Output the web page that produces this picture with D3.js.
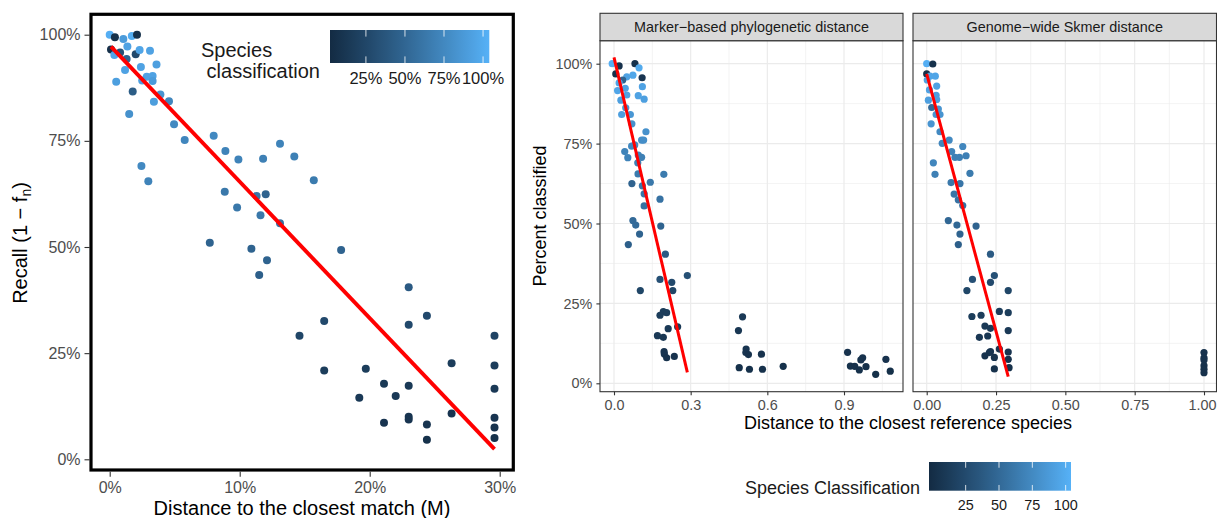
<!DOCTYPE html>
<html>
<head>
<meta charset="utf-8">
<script src="https://cdn.jsdelivr.net/npm/d3@7"></script>
<style>
  body { margin: 0; background: white; }
  svg { display: block; font-family: "Liberation Sans", Arial, sans-serif; }
</style>
</head>
<body>
<div id="container"></div>
<script>
// left panel: [distance %, recall %, species classification]
const leftPoints = [
  [0, 100, 0.98], [0.4, 99.4, 0.05], [1.05, 99, 0.85], [1.7, 99.7, 0.97], [2.1, 100, 0.05],
  [0.1, 96.5, 0.05], [0.36, 95.2, 0.92], [0.8, 95.8, 0.3], [1.36, 97.2, 0.9], [1.3, 94.3, 0.45],
  [1.18, 91.7, 0.9], [2.0, 95.4, 0.25], [2.3, 96.4, 0.92], [3.1, 96.2, 0.9], [2.4, 92.4, 0.9],
  [3.6, 93, 0.88], [2.85, 90.1, 0.9], [3.3, 90.3, 0.9], [2.5, 89.2, 0.88], [3.3, 89.1, 0.85],
  [0.5, 88.9, 0.88], [1.77, 86.6, 0.4], [3.9, 85.9, 0.8], [4.56, 84.3, 0.7], [3.4, 84.2, 0.87],
  [1.5, 81.3, 0.78], [4.95, 78.9, 0.72], [5.77, 75.2, 0.7], [8.0, 76.2, 0.72], [8.9, 72.6, 0.68],
  [9.9, 70.6, 0.68], [11.8, 70.8, 0.66], [13.1, 74.3, 0.68], [14.2, 71.3, 0.66], [15.7, 65.7, 0.62],
  [2.44, 69.1, 0.72], [2.97, 65.5, 0.68], [8.85, 63, 0.6], [9.8, 59.3, 0.6], [11.3, 62, 0.58],
  [12.0, 62.4, 0.45], [11.6, 57.5, 0.6], [13.1, 55.6, 0.55], [7.7, 51, 0.45], [10.9, 49.6, 0.45],
  [12.1, 46.9, 0.45], [11.5, 43.4, 0.42], [17.8, 49.3, 0.45], [23, 40.5, 0.38], [23, 31.7, 0.25],
  [24.4, 33.8, 0.25], [16.5, 32.6, 0.25], [14.6, 29.1, 0.22], [16.5, 20.9, 0.15], [19.7, 21.3, 0.15],
  [19.2, 14.5, 0.12], [21.1, 17.8, 0.12], [22, 14.9, 0.12], [21.1, 8.6, 0.08], [23, 17.3, 0.12],
  [23, 10, 0.08], [23, 9.4, 0.08], [24.4, 8.2, 0.08], [24.4, 4.6, 0.05], [26.3, 22.6, 0.15],
  [26.3, 10.8, 0.08], [29.6, 29.1, 0.2], [29.6, 22.1, 0.15], [29.6, 16.6, 0.12], [29.6, 9.8, 0.08],
  [29.6, 7.5, 0.06], [29.6, 5, 0.05]
];
const leftFit = [[0.1, 97.2], [29.6, 2.4]];

// right panels: [distance, percent classified, species classification]
const markerPoints = [
  [-0.007, 100, 0.98], [0.02, 99.3, 0.05], [0.007, 96.8, 0.05], [0.082, 100, 0.05], [0.098, 98.7, 0.95],
  [0.074, 96.4, 0.93], [0.11, 95.6, 0.08], [0.05, 95.9, 0.9], [0.034, 94.9, 0.45], [0.02, 94, 0.92],
  [0.044, 92.3, 0.9], [0.111, 92.8, 0.9], [0.014, 91.6, 0.92], [0.05, 90.2, 0.9], [0.095, 90, 0.9],
  [0.118, 88.9, 0.88], [0.027, 88.6, 0.88], [0.046, 86.2, 0.8], [0.064, 84.1, 0.82], [0.03, 84.1, 0.88],
  [0.07, 81.2, 0.78], [0.125, 78.7, 0.78], [0.108, 76.1, 0.76], [0.116, 76.1, 0.76], [0.069, 74.2, 0.72],
  [0.081, 74.6, 0.72], [0.042, 72.5, 0.68], [0.054, 70.6, 0.68], [0.095, 71.4, 0.68], [0.108, 70.7, 0.66],
  [0.093, 69, 0.66], [0.094, 65.5, 0.62], [0.195, 65.4, 0.62], [0.07, 62.5, 0.45], [0.111, 61.8, 0.6],
  [0.142, 62.9, 0.6], [0.118, 59.3, 0.58], [0.118, 55.5, 0.55], [0.18, 57.6, 0.56], [0.074, 50.9, 0.5],
  [0.085, 49.5, 0.5], [0.183, 49.2, 0.45], [0.1, 46.7, 0.45], [0.056, 43.4, 0.42], [0.201, 40.4, 0.38],
  [0.18, 32.5, 0.3], [0.226, 31.6, 0.25], [0.287, 33.7, 0.3], [0.23, 29, 0.22], [0.103, 29, 0.22],
  [0.193, 22.4, 0.15], [0.206, 22.1, 0.15], [0.18, 21.3, 0.15], [0.249, 17.7, 0.12], [0.212, 17.1, 0.12],
  [0.17, 14.9, 0.12], [0.193, 14.4, 0.1], [0.196, 9.9, 0.08], [0.197, 9.2, 0.08], [0.206, 8, 0.06],
  [0.236, 8.4, 0.06], [0.503, 20.8, 0.12], [0.487, 16.5, 0.1], [0.517, 10.7, 0.08], [0.516, 9.6, 0.08],
  [0.526, 9, 0.06], [0.577, 9.1, 0.06], [0.49, 4.9, 0.05], [0.53, 4.4, 0.05], [0.581, 4.4, 0.05],
  [0.662, 5.3, 0.05], [0.914, 9.7, 0.06], [0.973, 8, 0.06], [0.966, 7.3, 0.06], [1.064, 7.5, 0.06],
  [0.925, 5.4, 0.05], [0.942, 5.3, 0.05], [0.96, 4.2, 0.05], [0.986, 5.2, 0.05], [1.024, 2.8, 0.04],
  [1.081, 3.8, 0.04]
];
const markerFit = [[0, 102], [0.287, 3.4]];

const skmerPoints = [
  [0, 100, 0.98], [0.022, 99.9, 0.05], [0, 96.8, 0.05], [0.012, 96.1, 0.92], [0.031, 96.1, 0.92],
  [0.002, 94.9, 0.9], [0.036, 93, 0.9], [0.01, 91.8, 0.9], [0.034, 90.1, 0.88], [0.036, 88.8, 0.88],
  [0.006, 88.6, 0.88], [0.018, 86.3, 0.5], [0.042, 85.8, 0.8], [0.034, 84.1, 0.8], [0.048, 84.1, 0.8],
  [0.016, 81.2, 0.8], [0.048, 78.7, 0.72], [0.081, 76.1, 0.72], [0.056, 75.1, 0.7], [0.13, 74.1, 0.7],
  [0.09, 72.5, 0.68], [0.102, 70.7, 0.66], [0.118, 70.7, 0.66], [0.142, 71.2, 0.66], [0.024, 69, 0.7],
  [0.03, 65.4, 0.66], [0.156, 65.7, 0.62], [0.088, 62.8, 0.6], [0.12, 62.5, 0.58], [0.099, 59.2, 0.58],
  [0.114, 57.4, 0.56], [0.13, 55.6, 0.55], [0.078, 50.9, 0.48], [0.109, 49.5, 0.48], [0.178, 49.2, 0.45],
  [0.12, 46.7, 0.45], [0.114, 43.4, 0.42], [0.23, 40.4, 0.38], [0.165, 32.5, 0.3], [0.244, 33.7, 0.3],
  [0.23, 31.6, 0.25], [0.145, 29, 0.22], [0.294, 29, 0.22], [0.163, 20.9, 0.15], [0.196, 21.3, 0.15],
  [0.262, 22.5, 0.15], [0.294, 22.1, 0.15], [0.21, 17.9, 0.12], [0.23, 17.2, 0.12], [0.294, 16.5, 0.12],
  [0.19, 14.4, 0.1], [0.22, 14.8, 0.1], [0.262, 10.7, 0.08], [0.23, 9.9, 0.08], [0.226, 9.6, 0.08],
  [0.294, 9.8, 0.08], [0.21, 8.6, 0.06], [0.244, 8.1, 0.06], [0.294, 7.5, 0.06], [0.297, 4.9, 0.05],
  [0.244, 4.5, 0.05], [1, 9.6, 0.06], [1, 8, 0.06], [1, 7.3, 0.06], [1, 5.5, 0.05], [1, 4.4, 0.05],
  [1, 3.3, 0.05]
];
const skmerFit = [[0, 96.8], [0.294, 2.1]];

const leftXTicks = [0, 10, 20, 30];
const leftYTicks = [0, 25, 50, 75, 100];
const markerXTicks = [0, 0.3, 0.6, 0.9];
const markerMinor = [0.15, 0.45, 0.75, 1.05];
const skmerXTicks = [0, 0.25, 0.5, 0.75, 1];
const skmerMinor = [0.125, 0.375, 0.625, 0.875];
const pctTicks = [0, 25, 50, 75, 100];
const pctMinor = [12.5, 37.5, 62.5, 87.5];
const legendTicks = [0.25, 0.5, 0.75, 1];
const panelTitles = ["Marker\u2212based phylogenetic distance", "Genome\u2212wide Skmer distance"];

const w = 1217;
const h = 518;

const svg = d3
  .select("#container")
  .append("svg")
  .attr("width", w)
  .attr("height", h)
  .attr("viewBox", `0 0 ${w} ${h}`);

const color = d3
  .scaleLinear()
  .domain([0, 1])
  .range(["#132B43", "#56B1F7"])
  .interpolate(d3.interpolateLab);

function styleAxis(g, size) {
  g.select(".domain").remove();
  g.selectAll(".tick line").attr("stroke", "#333333").attr("stroke-width", 1.1);
  g.selectAll(".tick text")
    .attr("fill", "#4D4D4D")
    .attr("font-size", size)
    .attr("font-family", "Liberation Sans, Arial, sans-serif");
}

// gradient for the colour bars
const defs = svg.append("defs");
const grad = defs
  .append("linearGradient")
  .attr("id", "bar-grad")
  .attr("x1", "0%")
  .attr("x2", "100%");
d3.range(0, 1.0001, 0.05).forEach((t) => {
  grad.append("stop").attr("offset", t * 100 + "%").attr("stop-color", color(t));
});

function colorbar(x0, x1, y0, y1, lo, hi, fmt, fontSize, labelY) {
  const s = d3.scaleLinear().domain([lo, hi]).range([x0, x1]);
  svg
    .append("rect")
    .attr("x", x0)
    .attr("y", y0)
    .attr("width", x1 - x0)
    .attr("height", y1 - y0)
    .attr("fill", "url(#bar-grad)");
  const tl = (y1 - y0) / 5;
  legendTicks.forEach((t) => {
    svg.append("line")
      .attr("x1", s(t)).attr("x2", s(t)).attr("y1", y0).attr("y2", y0 + tl)
      .attr("stroke", "white").attr("stroke-opacity", 0.8).attr("stroke-width", 1);
    svg.append("line")
      .attr("x1", s(t)).attr("x2", s(t)).attr("y1", y1 - tl).attr("y2", y1)
      .attr("stroke", "white").attr("stroke-opacity", 0.8).attr("stroke-width", 1);
    svg.append("text")
      .attr("x", s(t))
      .attr("y", labelY)
      .attr("text-anchor", "middle")
      .attr("font-size", fontSize)
      .attr("fill", "#1A1A1A")
      .text(fmt(t));
  });
}

// ---------- left panel ----------
const xL = d3.scaleLinear().domain([0, 30]).range([109.7, 499.7]);
const yL = d3.scaleLinear().domain([0, 100]).range([459.3, 34.7]);

svg
  .append("g")
  .attr("transform", "translate(89.5,0)")
  .call(d3.axisLeft(yL).tickValues(leftYTicks).tickFormat((d) => d + "%").tickSize(5).tickPadding(4))
  .call(styleAxis, 16);

svg
  .append("g")
  .attr("transform", "translate(0,471.7)")
  .call(d3.axisBottom(xL).tickValues(leftXTicks).tickFormat((d) => d + "%").tickSize(5).tickPadding(5))
  .call(styleAxis, 16);

svg
  .append("g")
  .selectAll("circle")
  .data(leftPoints)
  .enter()
  .append("circle")
  .attr("cx", (d) => xL(d[0]))
  .attr("cy", (d) => yL(d[1]))
  .attr("r", 4)
  .attr("fill", (d) => color(d[2]));

svg
  .append("path")
  .datum(leftFit)
  .attr("d", d3.line().x((d) => xL(d[0])).y((d) => yL(d[1])))
  .attr("stroke", "#FF0000")
  .attr("stroke-width", 3.9)
  .attr("fill", "none");

svg
  .append("rect")
  .attr("x", 91)
  .attr("y", 14.3)
  .attr("width", 422.3)
  .attr("height", 455.7)
  .attr("fill", "none")
  .attr("stroke", "black")
  .attr("stroke-width", 3.2);

svg
  .append("text")
  .attr("x", 302)
  .attr("y", 514.5)
  .attr("text-anchor", "middle")
  .attr("font-size", 20)
  .text("Distance to the closest match (M)");

const yTitle = svg
  .append("text")
  .attr("text-anchor", "middle")
  .attr("transform", "translate(27,243) rotate(-90)")
  .attr("font-size", 20);
yTitle.append("tspan").text("Recall (1 \u2212 f");
yTitle.append("tspan").attr("font-size", 14).attr("dy", 4).text("n");
yTitle.append("tspan").attr("dy", -4).text(")");

// left legend
const legTitle = svg.append("text").attr("font-size", 20).attr("fill", "#1A1A1A");
legTitle.append("tspan").attr("x", 201).attr("y", 56.7).text("Species");
legTitle.append("tspan").attr("x", 206.6).attr("y", 78.3).text("classification");
colorbar(330, 489.3, 30, 63, 0.02, 1.04, (t) => t * 100 + "%", 16.5, 84);

// ---------- right panels ----------
const yR = d3.scaleLinear().domain([0, 100]).range([383.3, 63.7]);
const panels = [
  {
    title: panelTitles[0], x0: 600, x1: 903,
    x: d3.scaleLinear().domain([0, 0.9]).range([614, 844]),
    ticks: markerXTicks, minor: markerMinor, fmt: d3.format(".1f"),
    points: markerPoints, fit: markerFit,
  },
  {
    title: panelTitles[1], x0: 913, x1: 1216.5,
    x: d3.scaleLinear().domain([0, 1]).range([926.7, 1204]),
    ticks: skmerXTicks, minor: skmerMinor, fmt: d3.format(".2f"),
    points: skmerPoints, fit: skmerFit,
  },
];
const pTop = 40.7;
const pBot = 391.7;

panels.forEach((p, i) => {
  const g = svg.append("g");
  g.append("rect")
    .attr("x", p.x0).attr("y", pTop).attr("width", p.x1 - p.x0).attr("height", pBot - pTop)
    .attr("fill", "white");

  // minor grid
  pctMinor.forEach((v) => {
    g.append("line").attr("x1", p.x0).attr("x2", p.x1).attr("y1", yR(v)).attr("y2", yR(v))
      .attr("stroke", "#EBEBEB").attr("stroke-width", 0.6);
  });
  p.minor.forEach((v) => {
    g.append("line").attr("x1", p.x(v)).attr("x2", p.x(v)).attr("y1", pTop).attr("y2", pBot)
      .attr("stroke", "#EBEBEB").attr("stroke-width", 0.6);
  });
  // major grid
  pctTicks.forEach((v) => {
    g.append("line").attr("x1", p.x0).attr("x2", p.x1).attr("y1", yR(v)).attr("y2", yR(v))
      .attr("stroke", "#EBEBEB").attr("stroke-width", 1.2);
  });
  p.ticks.forEach((v) => {
    g.append("line").attr("x1", p.x(v)).attr("x2", p.x(v)).attr("y1", pTop).attr("y2", pBot)
      .attr("stroke", "#EBEBEB").attr("stroke-width", 1.2);
  });

  g.append("g")
    .selectAll("circle")
    .data(p.points)
    .enter()
    .append("circle")
    .attr("cx", (d) => p.x(d[0]))
    .attr("cy", (d) => yR(d[1]))
    .attr("r", 3.6)
    .attr("fill", (d) => color(d[2]));

  g.append("path")
    .datum(p.fit)
    .attr("d", d3.line().x((d) => p.x(d[0])).y((d) => yR(d[1])))
    .attr("stroke", "#FF0000")
    .attr("stroke-width", 3)
    .attr("fill", "none");

  g.append("rect")
    .attr("x", p.x0).attr("y", pTop).attr("width", p.x1 - p.x0).attr("height", pBot - pTop)
    .attr("fill", "none").attr("stroke", "#333333").attr("stroke-width", 1.1);

  // strip
  g.append("rect")
    .attr("x", p.x0).attr("y", 13.3).attr("width", p.x1 - p.x0).attr("height", pTop - 13.3)
    .attr("fill", "#D9D9D9").attr("stroke", "#333333").attr("stroke-width", 1.1);
  g.append("text")
    .attr("x", (p.x0 + p.x1) / 2)
    .attr("y", 32)
    .attr("text-anchor", "middle")
    .attr("font-size", 14.4)
    .attr("fill", "#1A1A1A")
    .text(p.title);

  const xAxisG = g.append("g")
    .attr("transform", `translate(0,${pBot})`)
    .call(d3.axisBottom(p.x).tickValues(p.ticks).tickFormat(p.fmt).tickSize(3.6).tickPadding(4.4))
    .call(styleAxis, 14.4);

  if (i == 1) {
    // keep the last label inside the window
    xAxisG.selectAll(".tick text").filter((d) => d == 1).attr("dx", -2);
  }

  if (i == 0) {
    g.append("g")
      .attr("transform", `translate(${p.x0},0)`)
      .call(d3.axisLeft(yR).tickValues(pctTicks).tickFormat((d) => d + "%").tickSize(3.6).tickPadding(4))
      .call(styleAxis, 14.4);
  }
});

svg
  .append("text")
  .attr("x", 908)
  .attr("y", 428.5)
  .attr("text-anchor", "middle")
  .attr("font-size", 18)
  .text("Distance to the closest reference species");

svg
  .append("text")
  .attr("text-anchor", "middle")
  .attr("transform", "translate(546,216) rotate(-90)")
  .attr("font-size", 18)
  .text("Percent classified");

// bottom legend
svg
  .append("text")
  .attr("x", 920)
  .attr("y", 494)
  .attr("text-anchor", "end")
  .attr("font-size", 18)
  .attr("fill", "#1A1A1A")
  .text("Species Classification");
colorbar(929, 1071, 462, 490.7, -0.025, 1.04, (t) => t * 100, 14.4, 510);
</script>
</body>
</html>
